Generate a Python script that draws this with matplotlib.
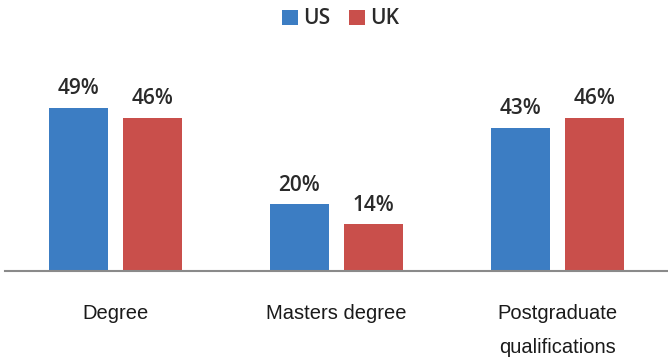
import matplotlib
matplotlib.use("Agg")
import matplotlib.pyplot as plt
import numpy as np

categories = ["Degree", "Masters degree", "Postgraduate\nqualifications"]
series_names = ["US", "UK"]
us_values = [49, 20, 43]
uk_values = [46, 14, 46]
colors = ["#3C7DC3", "#C94F4B"]

W, H = 668, 361
fig = plt.figure(figsize=(W/100, H/100), dpi=100)
ax = fig.add_axes([5/W, (H-271)/H, 663/W, 200/H])

x = np.arange(len(categories))
bw = 0.267
off = 0.168
b1 = ax.bar(x - off, us_values, bw, color=colors[0], label=series_names[0])
b2 = ax.bar(x + off, uk_values, bw, color=colors[1], label=series_names[1])

for bars, vals in ((b1, us_values), (b2, uk_values)):
    for rect, v in zip(bars, vals):
        ax.annotate(f"{v}%", (rect.get_x() + rect.get_width()/2, rect.get_height()),
                    xytext=(0, 6), textcoords="offset points", ha="center", va="bottom",
                    fontsize=15, family="Open Sans", fontweight="semibold", color="#2a2a2a")

ax.set_xlim(-0.5, 2.5)
ax.set_ylim(0, 60)
ax.set_yticks([])
ax.set_xticks(x)
ax.set_xticklabels(categories)
for t in ax.get_xticklabels():
    t.set_fontfamily("Liberation Sans")
    t.set_fontsize(14.5)
    t.set_color("#1a1a1a")
    t.set_linespacing(1.95)
    t.set_verticalalignment("top")
ax.tick_params(axis="x", length=0, pad=24)
for s in ("top", "right", "left"):
    ax.spines[s].set_visible(False)
ax.spines["bottom"].set_color("#8a8a8a")
ax.spines["bottom"].set_linewidth(1.5)

leg = fig.legend(handles=[b1, b2], labels=series_names, loc="center", bbox_to_anchor=(0.51, 1 - 19/H),
                 ncol=2, frameon=False, prop={"family": "Open Sans", "size": 15, "weight": "semibold"},
                 handlelength=0.75, handleheight=0.75, handletextpad=0.25, columnspacing=0.9)
for t in leg.get_texts():
    t.set_color("#2a2a2a")

fig.savefig("out.png", dpi=100)
